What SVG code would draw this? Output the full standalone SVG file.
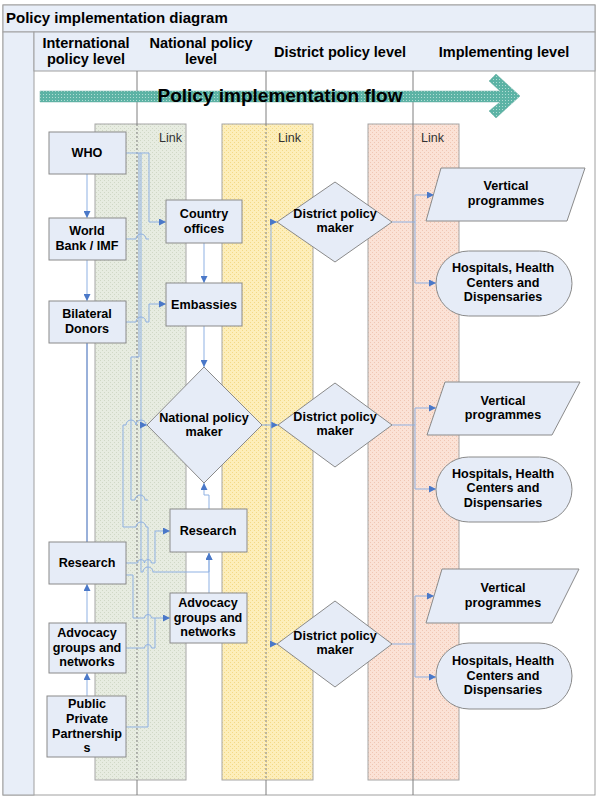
<svg xmlns="http://www.w3.org/2000/svg" width="600" height="800" viewBox="0 0 600 800">
<defs>
<pattern id="pg" width="4" height="4" patternUnits="userSpaceOnUse"><rect width="4" height="4" fill="#E7ECE1"/><rect x="0" y="0" width="1" height="1" fill="#D0D8C6"/><rect x="2" y="2" width="1" height="1" fill="#D0D8C6"/></pattern>
<pattern id="py" width="4" height="4" patternUnits="userSpaceOnUse"><rect width="4" height="4" fill="#FDEEBA"/><rect x="0" y="0" width="1" height="1" fill="#F3D986"/><rect x="2" y="2" width="1" height="1" fill="#F3D986"/></pattern>
<pattern id="pp" width="4" height="4" patternUnits="userSpaceOnUse"><rect width="4" height="4" fill="#FBE2D6"/><rect x="0" y="0" width="1" height="1" fill="#F0C6B3"/><rect x="2" y="2" width="1" height="1" fill="#F0C6B3"/></pattern>
<pattern id="pt" width="3" height="3" patternUnits="userSpaceOnUse"><rect width="3" height="3" fill="#5CB3A5"/><rect x="1" y="1" width="1" height="1" fill="#B0DCD4"/></pattern>
<marker id="ah" viewBox="0 0 8 8" refX="8" refY="4" markerWidth="7" markerHeight="7" orient="auto" markerUnits="userSpaceOnUse"><path d="M0,0 L8,4 L0,8 z" fill="#4A78C8"/></marker>
</defs>
<style>
.t{font-family:"Liberation Sans",Arial,sans-serif;font-weight:bold;fill:#000;text-anchor:middle}
.n{font-size:12.6px}
.h{font-size:14.5px}
.node{fill:#E6ECF7;stroke:#8A8A8A;stroke-width:1}
.c{fill:none;stroke:#8FB1E3;stroke-width:1}
.a{marker-end:url(#ah)}
.lane{stroke:#7F7F7F;stroke-width:1;fill:none}
.dash{stroke:#7F7F7F;stroke-width:1;stroke-dasharray:2,2;fill:none}
.bar{stroke:#A6A6A6;stroke-width:1}
.lk{font-family:"Liberation Sans",Arial,sans-serif;font-size:12.5px;fill:#333}
</style>
<rect width="600" height="800" fill="#FFFFFF"/>
<g id="frame">
<rect x="3" y="5" width="592" height="790" fill="#FFFFFF" stroke="#A0A0A0"/>
<rect x="3" y="5" width="592" height="27" fill="#E8EEF8" stroke="#A0A0A0"/>
<rect x="3" y="32" width="31" height="763" fill="#E8EEF8" stroke="#A0A0A0"/>
<rect x="34" y="32" width="561" height="39" fill="#E8EEF8" stroke="#A0A0A0"/>
<text x="6" y="23" class="t" style="text-anchor:start;font-size:15px">Policy implementation diagram</text>
<text x="86" y="48" class="t h">International</text>
<text x="86" y="64" class="t h">policy level</text>
<text x="201" y="48" class="t h">National policy</text>
<text x="201" y="64" class="t h">level</text>
<text x="340" y="57" class="t h">District policy level</text>
<text x="504" y="57" class="t h">Implementing level</text>
</g>
<g id="links">
<rect x="95" y="124" width="91" height="656" fill="url(#pg)" class="bar"/>
<rect x="222" y="124" width="91" height="656" fill="url(#py)" class="bar"/>
<rect x="368" y="124" width="91" height="656" fill="url(#pp)" class="bar"/>
<text x="159" y="142" class="lk">Link</text>
<text x="278" y="142" class="lk">Link</text>
<text x="421" y="142" class="lk">Link</text>
</g>
<g id="lanes">
<path class="lane" d="M137,71 V124 M137,780 V795 M266,71 V124 M266,780 V795 M413,71 V795"/>
<path class="dash" d="M137,124 V780 M266,124 V780"/>
</g>
<g id="flow">
<path d="M40,91 L500,91 L489,81 L496,74 L520,96 L496,118 L489,111 L500,102 L40,102 Z" fill="url(#pt)" stroke="#6AAFA3" stroke-width="0.5"/>
<text x="280" y="102" class="t" style="font-size:19px">Policy implementation flow</text>
</g>
<g id="connectors">
<path class="c a" d="M87,174 V218"/>
<path class="c a" d="M87,260 V301"/>
<path d="M87,343 V542" fill="none" stroke="#3562B5" stroke-width="1"/>
<path class="c a" d="M87,623 V584"/>
<path class="c a" d="M87,696 V673"/>
<path class="c a" d="M126,153 H149 V222 H166"/>
<path class="c" d="M126,239 H136 a5,5 0 0 1 10,0 H149"/>
<path class="c a" d="M126,322 H136 a5,5 0 0 1 10,0 H149 V304 H166"/>
<path class="c a" d="M141,153 V572 H143 a5,5 0 0 1 10,0 H209 V553"/>
<path class="c" d="M139,153 V357 H131 V500 H135 a5,5 0 0 1 10,0 H148"/>
<path class="c a" d="M126,727 H148 V527 H146 a5,5 0 0 0 -10,0 H123 V425 H126 a5,5 0 0 1 10,0 a5,5 0 0 1 10,0 H147"/>
<path class="c a" d="M126,563 H137.5 a3.5,3.5 0 0 1 7,0 a3.5,3.5 0 0 1 7,0 H155 V531 H170"/>
<path class="c a" d="M126,575 H133 V618 H144.5 a3.5,3.5 0 0 1 7,0 H170"/>
<path class="c" d="M126,648 H144.5 a3.5,3.5 0 0 1 7,0 H155 V618"/>
<path class="c a" d="M209,593 V553"/>
<path class="c a" d="M204,243 V283"/>
<path class="c a" d="M204,326 V367"/>
<path class="c a" d="M209,509 V495 H204 V483"/>
<path class="c a" d="M262,425 H278"/>
<path class="c a" d="M271,425 V222 H277"/>
<path class="c a" d="M271,425 V644 H277"/>
<path class="c" d="M392,222 H415 M415,195 V283"/>
<path class="c a" d="M415,195 H434"/>
<path class="c a" d="M415,283 H436"/>
<path class="c" d="M391,425 H415 M415,408 V489"/>
<path class="c a" d="M415,408 H436"/>
<path class="c a" d="M415,489 H436"/>
<path class="c" d="M392,644 H415 M415,596 V677"/>
<path class="c a" d="M415,596 H434"/>
<path class="c a" d="M415,677 H436"/>
</g>
<g id="who"><rect class="node" x="49" y="132" width="77" height="42"/><text class="t n" x="87" y="157">WHO</text></g>
<g id="worldbank"><rect class="node" x="49" y="218" width="77" height="42"/><text class="t n" x="87" y="235">World</text><text class="t n" x="87" y="250">Bank / IMF</text></g>
<g id="bilateral"><rect class="node" x="49" y="301" width="77" height="42"/><text class="t n" x="87" y="318">Bilateral</text><text class="t n" x="87" y="333">Donors</text></g>
<g id="research-intl"><rect class="node" x="49" y="542" width="77" height="42"/><text class="t n" x="87" y="567">Research</text></g>
<g id="advocacy-intl"><rect class="node" x="49" y="623" width="77" height="50"/><text class="t n" x="87" y="637">Advocacy</text><text class="t n" x="87" y="652">groups and</text><text class="t n" x="87" y="666">networks</text></g>
<g id="ppp"><rect class="node" x="47" y="696" width="79" height="61"/><text class="t n" x="87" y="708">Public</text><text class="t n" x="87" y="723">Private</text><text class="t n" x="87" y="738">Partnership</text><text class="t n" x="87" y="752">s</text></g>
<g id="country-offices"><rect class="node" x="166" y="200" width="76" height="43"/><text class="t n" x="204" y="218">Country</text><text class="t n" x="204" y="233">offices</text></g>
<g id="embassies"><rect class="node" x="166" y="283" width="76" height="43"/><text class="t n" x="204" y="309">Embassies</text></g>
<g id="national-maker"><polygon class="node" points="204,367 262,425 204,483 147,425"/><text class="t n" x="204" y="422">National policy</text><text class="t n" x="204" y="436">maker</text></g>
<g id="research-nat"><rect class="node" x="170" y="509" width="77" height="43"/><text class="t n" x="208" y="535">Research</text></g>
<g id="advocacy-nat"><rect class="node" x="170" y="593" width="77" height="50"/><text class="t n" x="208" y="607">Advocacy</text><text class="t n" x="208" y="622">groups and</text><text class="t n" x="208" y="636">networks</text></g>
<g id="district1"><polygon class="node" points="335,182 392,222 335,262 277,222"/><text class="t n" x="335" y="218">District policy</text><text class="t n" x="335" y="232">maker</text></g>
<g id="district2"><polygon class="node" points="335,383 392,425 335,467 278,425"/><text class="t n" x="335" y="421">District policy</text><text class="t n" x="335" y="435">maker</text></g>
<g id="district3"><polygon class="node" points="335,601 392,644 335,687 277,644"/><text class="t n" x="335" y="640">District policy</text><text class="t n" x="335" y="654">maker</text></g>
<g id="vertical1"><polygon class="node" points="441,168 585,168 567,221 426,221"/><text class="t n" x="506" y="190">Vertical</text><text class="t n" x="506" y="205">programmes</text></g>
<g id="vertical2"><polygon class="node" points="445,382 580,382 552,435 427,435"/><text class="t n" x="503" y="405">Vertical</text><text class="t n" x="503" y="419">programmes</text></g>
<g id="vertical3"><polygon class="node" points="442,569 579,569 552,623 426,623"/><text class="t n" x="503" y="592">Vertical</text><text class="t n" x="503" y="607">programmes</text></g>
<g id="hospitals1"><rect class="node" x="436" y="251" width="136" height="65" rx="32.5"/><text class="t n" x="503" y="272">Hospitals, Health</text><text class="t n" x="503" y="287">Centers and</text><text class="t n" x="503" y="301">Dispensaries</text></g>
<g id="hospitals2"><rect class="node" x="436" y="457" width="136" height="65" rx="32.5"/><text class="t n" x="503" y="478">Hospitals, Health</text><text class="t n" x="503" y="492">Centers and</text><text class="t n" x="503" y="507">Dispensaries</text></g>
<g id="hospitals3"><rect class="node" x="436" y="643" width="136" height="66" rx="33"/><text class="t n" x="503" y="665">Hospitals, Health</text><text class="t n" x="503" y="680">Centers and</text><text class="t n" x="503" y="694">Dispensaries</text></g>
</svg>
